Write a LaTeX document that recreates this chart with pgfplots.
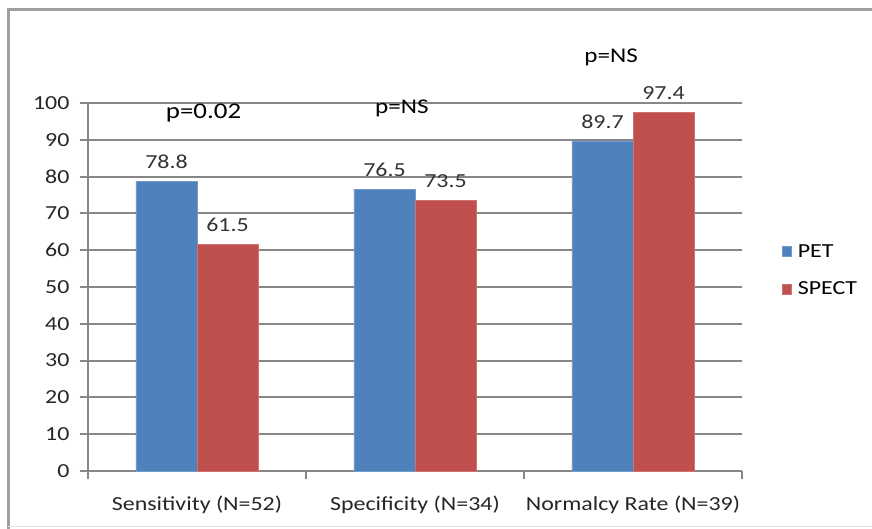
\documentclass[border=0pt]{standalone}
\usepackage{pgfplots}
\pgfplotsset{compat=1.18}
\usepackage{fontspec}
\setmainfont{Carlito}[FakeStretch=1.2]
\definecolor{petblue}{HTML}{4F81BD}
\definecolor{spectred}{HTML}{C0504D}
\definecolor{gridgray}{HTML}{878787}

\begin{document}
\begin{tikzpicture}
\useasboundingbox (0bp,0bp) rectangle (872bp,529bp);
% outer chart frame
\draw[gridgray!80, line width=3bp] (8bp,0bp) -- (8bp,519bp) -- (872bp,519bp);
\draw[gridgray!25, line width=1bp] (8bp,2bp) -- (872bp,2bp);
\begin{axis}[
  at={(88bp,58bp)}, anchor=south west,
  scale only axis, width=654bp, height=368bp,
  xmin=-0.5, xmax=2.5, ymin=0, ymax=100,
  clip=false,
  axis lines=left,
  axis line style={gridgray, line width=2bp, -},
  ymajorgrids, grid style={gridgray, line width=2bp},
  ytick={0,10,...,100},
  % category separators as ticks, names as tickless extra ticks
  xtick={-0.5,0.5,1.5,2.5},
  xticklabels={},
  extra x ticks={0,1,2},
  extra x tick labels={Sensitivity (N=52), Specificity (N=34), Normalcy Rate (N=39)},
  extra x tick style={major tick length=0pt},
  tick align=outside,
  major tick length=8bp,
  tick style={gridgray, line width=2bp},
  /pgf/number format/assume math mode=true,
  ticklabel style={font=\fontsize{20}{21}\selectfont, text=black!85},
  yticklabel style={xshift=-7bp},
  xticklabel style={yshift=-21bp},
  ybar=0pt, bar width=0.28,
  nodes near coords={\pgfmathprintnumber[fixed,precision=1,fixed zerofill]{\pgfplotspointmeta}},
  every node near coord/.append style={font=\fontsize{20}{21}\selectfont, text=black!80, yshift=9bp},
  legend style={at={(1,0.545)}, anchor=west, xshift=40bp, draw=none, fill=none,
    font=\fontsize{20}{21}\selectfont, row sep=19bp, column sep=4bp, inner sep=0pt},
  legend cell align=left,
  legend image code/.code={\fill[#1] (0bp,-5bp) rectangle (9bp,5bp);},
]
\addplot[fill=petblue, draw=petblue!80!white, line width=0.6bp]
  coordinates {(0,78.8) (1,76.5) (2,89.7)};
\addplot[fill=spectred, draw=spectred!80!white, line width=0.6bp]
  coordinates {(0,61.5) (1,73.5) (2,97.4)};
\legend{PET, SPECT}
\node[font=\fontsize{22.5}{24}\selectfont] at (axis cs:0.03,97.3) {p=0.02};
\node[font=\fontsize{21}{22}\selectfont] at (axis cs:0.94,98.6) {p=NS};
\node[font=\fontsize{21}{22}\selectfont] at (axis cs:1.90,112.5) {p=NS};
\end{axis}
\end{tikzpicture}
\end{document}
